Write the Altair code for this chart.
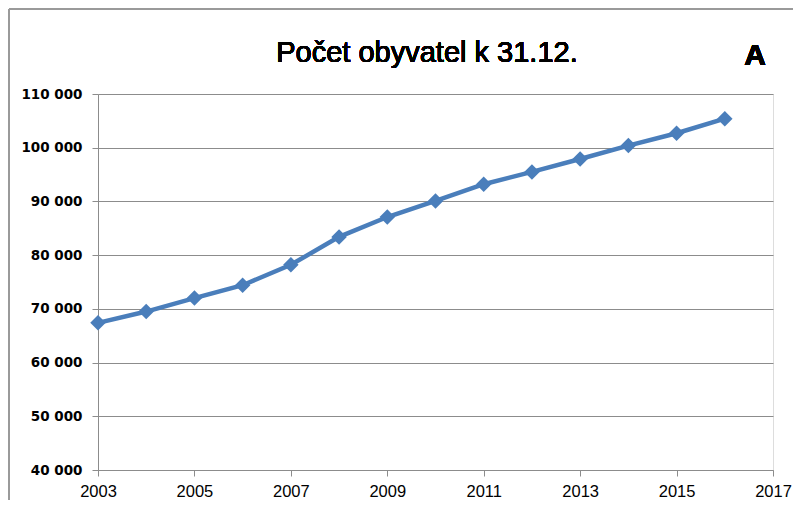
import altair as alt
import pandas as pd

years = [2003, 2004, 2005, 2006, 2007, 2008, 2009, 2010, 2011, 2012, 2013, 2014, 2015, 2016]
population = [67400, 69500, 72000, 74400, 78200, 83400, 87100, 90100, 93200, 95500, 97900, 100400, 102700, 105400]
x_ticks = [2003, 2005, 2007, 2009, 2011, 2013, 2015, 2017]
y_ticks = [40000, 50000, 60000, 70000, 80000, 90000, 100000, 110000]
title_text = "Počet obyvatel k 31.12."
corner_label = "A"

df = pd.DataFrame({"year": years, "pop": population})

W, H = 675, 376
PAD = {"left": 90, "top": 86, "right": 20, "bottom": 30}

base = alt.Chart(df)

x_enc = alt.X("year:Q", scale=alt.Scale(domain=[2003, 2017], nice=False, zero=False),
              axis=alt.Axis(values=x_ticks, format="d", title=None, grid=False,
                            labelFont="Liberation Sans", labelFontSize=16.5, labelColor="#000",
                            labelPadding=7, tickSize=6, tickColor="#8c8c8c",
                            domainColor="#8c8c8c", labelFlush=False))
y_enc = alt.Y("pop:Q", scale=alt.Scale(domain=[40000, 110000], nice=False, zero=False),
              axis=alt.Axis(values=y_ticks, title=None, grid=True, gridColor="#8c8c8c",
                            labelExpr="replace(format(datum.value, ','), /,/g, ' ')",
                            labelFont="DejaVu Sans", labelFontWeight="bold", labelFontSize=13.5,
                            labelColor="#000", labelPadding=10, tickSize=6, tickColor="#8c8c8c",
                            domainColor="#8c8c8c"))

line = base.mark_line(color="#4A7EBB", strokeWidth=4.5).encode(x=x_enc, y=y_enc)
points = base.mark_point(shape="diamond", filled=True, size=240, color="#4A7EBB", opacity=1).encode(
    x="year:Q", y="pop:Q")

title_mark = base.mark_text(text=title_text, font="Liberation Sans", fontSize=29,
                            color="#000", align="center", baseline="alphabetic").encode(
    x=alt.value(329), y=alt.value(-32))

corner = base.mark_text(text=corner_label, font="Liberation Sans", fontWeight="bold",
                        fontSize=30, color="#000", align="center", baseline="alphabetic").encode(
    x=alt.value(657), y=alt.value(-29))

border_left = base.mark_rule(color="#9a9a9a", strokeWidth=2).encode(
    x=alt.value(-89), y=alt.value(-85), y2=alt.value(H + PAD["bottom"]))
border_top = base.mark_rule(color="#9a9a9a", strokeWidth=2).encode(
    x=alt.value(-89), x2=alt.value(W + PAD["right"]), y=alt.value(-85))

chart = alt.layer(border_left, border_top, line, points, title_mark, corner).properties(
    width=W, height=H,
    padding=PAD,
    autosize=alt.AutoSizeParams(type="none"),
).configure_view(stroke=None).configure(background="white")

chart.save("out.html", embed_options={"renderer": "svg", "actions": False})
